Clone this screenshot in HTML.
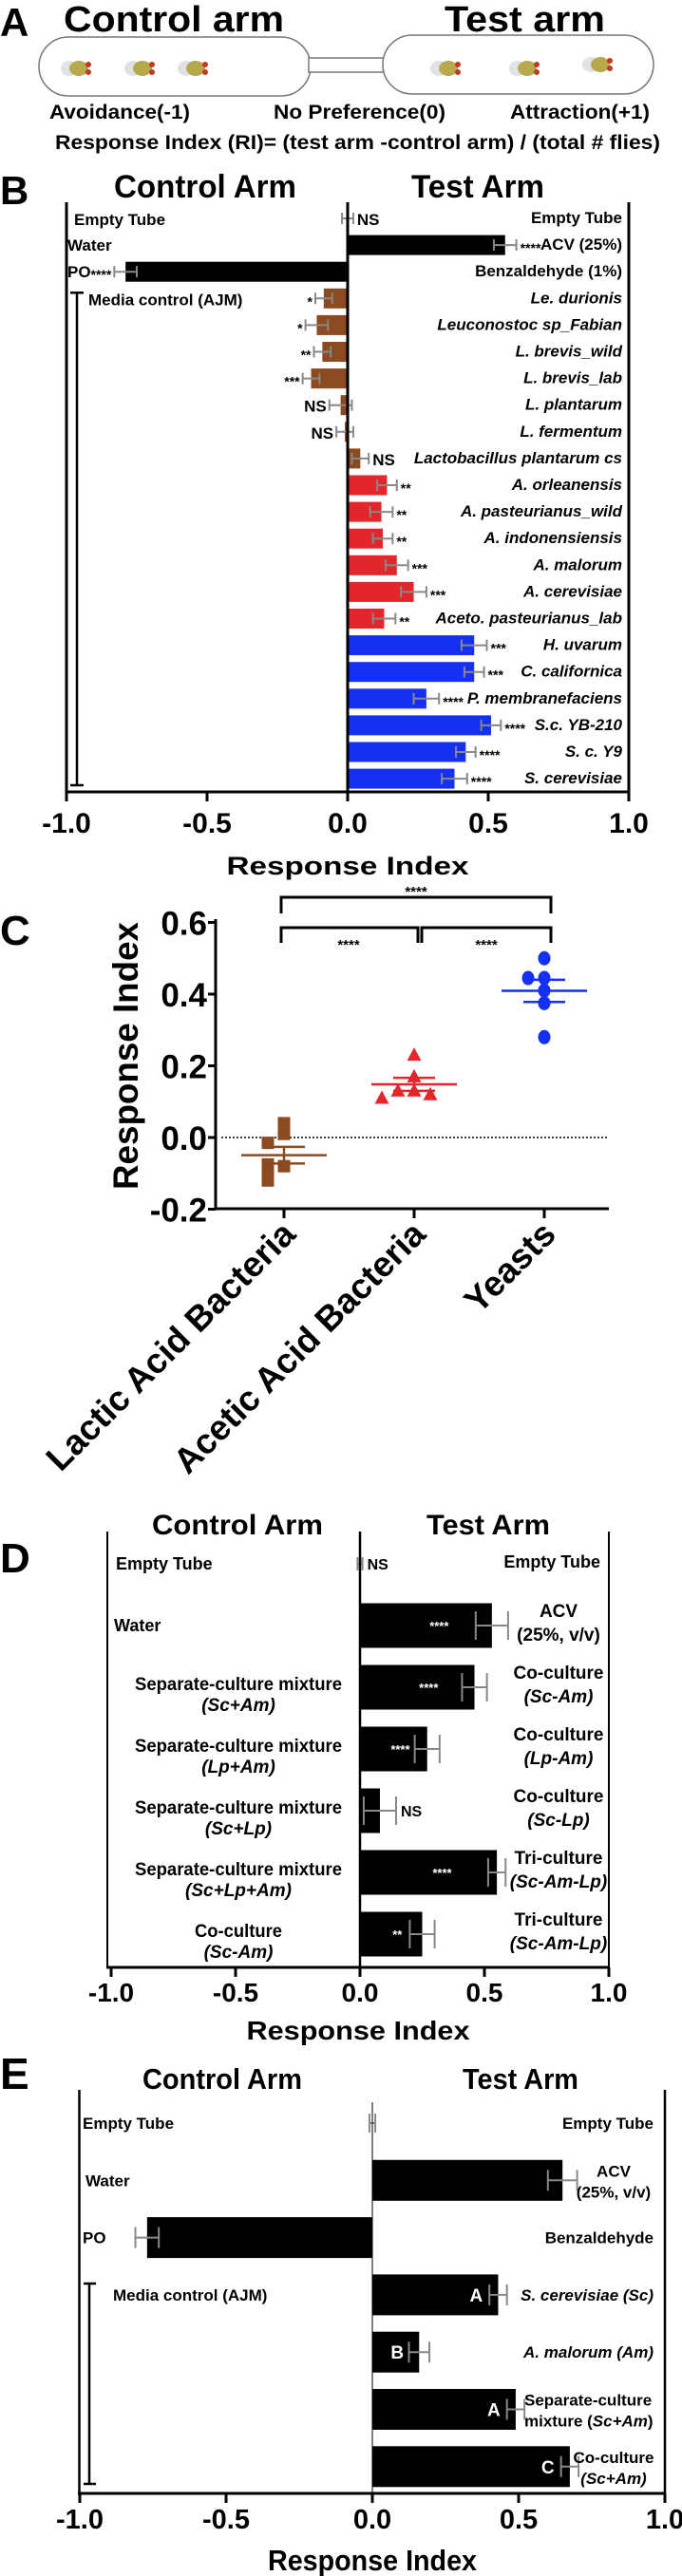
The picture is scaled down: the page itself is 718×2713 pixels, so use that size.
<!DOCTYPE html>
<html><head><meta charset="utf-8">
<style>
html,body{margin:0;padding:0;background:#fff;}
svg{display:block;font-family:"Liberation Sans",Arial,sans-serif;font-weight:bold;}
</style></head>
<body>
<svg id="fig" xmlns="http://www.w3.org/2000/svg" width="718" height="2713" viewBox="0 0 718 2713">
<rect x="0" y="0" width="718" height="2713" fill="#fff"/>
<g>
  <text x="0" y="38" font-size="42">A</text>
  <text x="67" y="33" font-size="38" textLength="232" lengthAdjust="spacingAndGlyphs">Control arm</text>
  <text x="468" y="33" font-size="38" textLength="169" lengthAdjust="spacingAndGlyphs">Test arm</text>
  <rect x="41" y="39" width="286" height="62" rx="31" fill="#fff" stroke="#777" stroke-width="1.5"/>
  <rect x="325" y="61" width="80" height="15" fill="#fff" stroke="#777" stroke-width="1.5"/>
  <rect x="403" y="37" width="285" height="62" rx="31" fill="#fff" stroke="#777" stroke-width="1.5"/>
  <g>
    <g transform="translate(81,72)"><ellipse cx="-8" cy="0" rx="9" ry="8" fill="#dfe3e6"/><ellipse cx="2" cy="0" rx="10" ry="8" fill="#b7a84a"/><circle cx="12" cy="-4" r="3" fill="#c0392b"/><circle cx="12" cy="4" r="3" fill="#c0392b"/></g>
    <g transform="translate(148,72)"><ellipse cx="-8" cy="0" rx="9" ry="8" fill="#dfe3e6"/><ellipse cx="2" cy="0" rx="10" ry="8" fill="#b7a84a"/><circle cx="12" cy="-4" r="3" fill="#c0392b"/><circle cx="12" cy="4" r="3" fill="#c0392b"/></g>
    <g transform="translate(204,72)"><ellipse cx="-8" cy="0" rx="9" ry="8" fill="#dfe3e6"/><ellipse cx="2" cy="0" rx="10" ry="8" fill="#b7a84a"/><circle cx="12" cy="-4" r="3" fill="#c0392b"/><circle cx="12" cy="4" r="3" fill="#c0392b"/></g>
    <g transform="translate(470,72)"><ellipse cx="-8" cy="0" rx="9" ry="8" fill="#dfe3e6"/><ellipse cx="2" cy="0" rx="10" ry="8" fill="#b7a84a"/><circle cx="12" cy="-4" r="3" fill="#c0392b"/><circle cx="12" cy="4" r="3" fill="#c0392b"/></g>
    <g transform="translate(553,72)"><ellipse cx="-8" cy="0" rx="9" ry="8" fill="#dfe3e6"/><ellipse cx="2" cy="0" rx="10" ry="8" fill="#b7a84a"/><circle cx="12" cy="-4" r="3" fill="#c0392b"/><circle cx="12" cy="4" r="3" fill="#c0392b"/></g>
    <g transform="translate(630,68)"><ellipse cx="-8" cy="0" rx="9" ry="8" fill="#dfe3e6"/><ellipse cx="2" cy="0" rx="10" ry="8" fill="#b7a84a"/><circle cx="12" cy="-4" r="3" fill="#c0392b"/><circle cx="12" cy="4" r="3" fill="#c0392b"/></g>
  </g>
  <text x="52" y="125" font-size="21" textLength="148" lengthAdjust="spacingAndGlyphs">Avoidance(-1)</text>
  <text x="288" y="125" font-size="21" textLength="181" lengthAdjust="spacingAndGlyphs">No Preference(0)</text>
  <text x="537" y="125" font-size="21" textLength="147" lengthAdjust="spacingAndGlyphs">Attraction(+1)</text>
  <text x="58" y="157" font-size="21" textLength="637" lengthAdjust="spacingAndGlyphs">Response Index (RI)= (test arm -control arm) / (total # flies)</text>
</g>
<g id="charts"></g>
</svg>
<script>
// ---------- Panel B data ----------
const bLabels = ["Empty Tube","ACV (25%)","Benzaldehyde (1%)","Le. durionis","Leuconostoc sp_Fabian","L. brevis_wild","L. brevis_lab","L. plantarum","L. fermentum","Lactobacillus plantarum cs","A. orleanensis","A. pasteurianus_wild","A. indonensiensis","A. malorum","A. cerevisiae","Aceto. pasteurianus_lab","H. uvarum","C. californica","P. membranefaciens","S.c. YB-210","S. c.  Y9","S. cerevisiae"];
const bValues = [0, 0.56, -0.79, -0.085, -0.11, -0.09, -0.13, -0.025, -0.01, 0.045, 0.14, 0.12, 0.125, 0.175, 0.235, 0.13, 0.45, 0.45, 0.28, 0.51, 0.42, 0.38];
const bErrors = [0.02, 0.04, 0.04, 0.03, 0.04, 0.03, 0.03, 0.04, 0.03, 0.03, 0.035, 0.04, 0.035, 0.04, 0.045, 0.04, 0.045, 0.035, 0.045, 0.035, 0.035, 0.045];
const bSig = ["NS","****","****","*","*","**","***","NS","NS","NS","**","**","**","***","***","**","***","***","****","****","****","****"];
const bGroups = ["ctrl","ctrl","ctrl","lab","lab","lab","lab","lab","lab","lab","aab","aab","aab","aab","aab","aab","yeast","yeast","yeast","yeast","yeast","yeast"];
const bTicks = [-1.0, -0.5, 0.0, 0.5, 1.0];
const bTickLabels = ["-1.0","-0.5","0.0","0.5","1.0"];
// ---------- Panel C data ----------
const cCategories = ["Lactic Acid Bacteria","Acetic Acid Bacteria","Yeasts"];
const cLabValues = [0.04, 0.01, -0.015, -0.08, -0.075, -0.105, -0.12];
const cAabValues = [0.23, 0.17, 0.13, 0.13, 0.12, 0.11];
const cYeastValues = [0.50, 0.445, 0.445, 0.41, 0.375, 0.28];
const cTicks = [0.6, 0.4, 0.2, 0.0, -0.2];
const cTickLabels = ["0.6","0.4","0.2","0.0","-0.2"];
// ---------- Panel D data ----------
const dLeftLabels = [["Empty Tube"],["Water"],["Separate-culture mixture","(Sc+Am)"],["Separate-culture mixture","(Lp+Am)"],["Separate-culture mixture","(Sc+Lp)"],["Separate-culture mixture","(Sc+Lp+Am)"],["Co-culture","(Sc-Am)"]];
const dRightLabels = [["Empty Tube"],["ACV","(25%, v/v)"],["Co-culture","(Sc-Am)"],["Co-culture","(Lp-Am)"],["Co-culture","(Sc-Lp)"],["Tri-culture","(Sc-Am-Lp)"],["Tri-culture","(Sc-Am-Lp)"]];
const dValues = [0, 0.53, 0.46, 0.27, 0.08, 0.55, 0.25];
const dErrors = [0.01, 0.065, 0.05, 0.05, 0.065, 0.035, 0.05];
const dSig = ["NS","****","****","****","NS","****","**"];
// ---------- Panel E data ----------
const eLeftLabels = ["Empty Tube","Water","PO","Media control (AJM)","","",""];
const eRightLabels = [["Empty Tube"],["ACV","(25%, v/v)"],["Benzaldehyde"],["S. cerevisiae (Sc)"],["A. malorum (Am)"],["Separate-culture","mixture (Sc+Am)"],["Co-culture","(Sc+Am)"]];
const eValues = [0, 0.65, -0.77, 0.43, 0.16, 0.49, 0.675];
const eErrors = [0.01, 0.05, 0.04, 0.03, 0.035, 0.03, 0.03];
const eLetters = ["","","","A","B","A","C"];

const NS = "http://www.w3.org/2000/svg";
const root = document.getElementById("charts");
function mk(tag, attrs, parent) {
  const e = document.createElementNS(NS, tag);
  for (const k in attrs) e.setAttribute(k, attrs[k]);
  (parent || root).appendChild(e);
  return e;
}
function nm(e, name) {
  
  
  return e;
}
function txt(s, attrs, parent) { const t = mk("text", attrs, parent); t.textContent = s; return t; }
const GREY = "#888";
const COLORS = {ctrl:"#000", lab:"#8b4a1f", aab:"#e3262c", yeast:"#1530f0"};

function errBar(g, x1, x2, y, h) {
  const l = mk("line", {x1:x1, x2:x2, y1:y, y2:y, stroke:GREY, "stroke-width":2}, g);
  nm(l, "error-bar");
  const c1 = mk("line", {x1:x1, x2:x1, y1:y-h, y2:y+h, stroke:GREY, "stroke-width":2}, g);
  nm(c1, "error-cap");
  const c2 = mk("line", {x1:x2, x2:x2, y1:y-h, y2:y+h, stroke:GREY, "stroke-width":2}, g);
  nm(c2, "error-cap");
}

// ================= Panel B =================
(function(){
  const g = mk("g", {});
  nm(g, "panel-b");
  const xB = v => 366 + v * 296;
  const yB = i => 230 + i * 28.1;
  const bh = 21;
  nm(txt("B", {x:0, y:215, "font-size":42}, g), "panel-b-label");
  nm(txt("Control Arm", {x:120, y:208, "font-size":34, textLength:192, lengthAdjust:"spacingAndGlyphs"}, g), "control-arm-title");
  nm(txt("Test Arm", {x:433, y:208, "font-size":34, textLength:140, lengthAdjust:"spacingAndGlyphs"}, g), "test-arm-title");
  nm(mk("line", {x1:xB(-1), x2:xB(-1), y1:213, y2:834, stroke:"#000", "stroke-width":3}, g), "frame-left");
  nm(mk("line", {x1:xB(1), x2:xB(1), y1:213, y2:834, stroke:"#000", "stroke-width":3}, g), "frame-right");
  bValues.forEach((v, i) => {
    const y = yB(i);
    if (i > 0) {
      const x0 = Math.min(xB(0), xB(v)), w = Math.abs(xB(v) - xB(0));
      const r = mk("rect", {x:x0, y:y - bh/2, width:w, height:bh, fill:COLORS[bGroups[i]]}, g);
      nm(r, "bar-" + bLabels[i].replace(/[^A-Za-z0-9]+/g, "-").toLowerCase());
    }
    errBar(g, xB(v - bErrors[i]), xB(v + bErrors[i]), y, 6);
    const s = bSig[i];
    let sx, anchor;
    if (v >= 0) { sx = xB(v + bErrors[i]) + 4; anchor = "start"; }
    else { sx = xB(v - bErrors[i]) - 3; anchor = "end"; }
    const st = txt(s, {x:sx, y:y + (s === "NS" ? 7 : 8), "font-size": s === "NS" ? 17 : 14, "text-anchor":anchor}, g);
    nm(st, "significance-label");
    const lab = txt(bLabels[i], {x:655, y:y + 5, "font-size":17, "text-anchor":"end", "font-style": i >= 3 ? "italic" : "normal"}, g);
    nm(lab, "row-label-test");
  });
  nm(mk("line", {x1:xB(0), x2:xB(0), y1:213, y2:834, stroke:"#000", "stroke-width":3}, g), "zero-line");
  nm(txt("Empty Tube", {x:78, y:yB(0) + 7, "font-size":17}, g), "row-label-control");
  nm(txt("Water", {x:71, y:yB(1) + 6, "font-size":17}, g), "row-label-control");
  nm(txt("PO", {x:71, y:yB(2) + 6, "font-size":17}, g), "row-label-control");
  nm(txt("Media control (AJM)", {x:93, y:yB(3) + 7, "font-size":17}, g), "row-label-control");
  nm(mk("line", {x1:81, x2:81, y1:yB(3) - 6, y2:827, stroke:"#000", "stroke-width":2.5}, g), "media-bracket");
  nm(mk("line", {x1:74, x2:88, y1:yB(3) - 6, y2:yB(3) - 6, stroke:"#000", "stroke-width":2.5}, g), "media-bracket-cap");
  nm(mk("line", {x1:74, x2:88, y1:827, y2:827, stroke:"#000", "stroke-width":2.5}, g), "media-bracket-cap");
  nm(mk("line", {x1:xB(-1) - 1.5, x2:xB(1) + 1.5, y1:834, y2:834, stroke:"#000", "stroke-width":3}, g), "x-axis");
  bTicks.forEach((t, k) => {
    nm(mk("line", {x1:xB(t), x2:xB(t), y1:834, y2:844, stroke:"#000", "stroke-width":3}, g), "x-tick");
    nm(txt(bTickLabels[k], {x:xB(t), y:877, "font-size":30, "text-anchor":"middle"}, g), "x-tick-label");
  });
  nm(txt("Response Index", {x:xB(0), y:921, "font-size":27, "text-anchor":"middle", textLength:255, lengthAdjust:"spacingAndGlyphs"}, g), "x-axis-title");
})();

// ================= Panel C =================
(function(){
  const g = mk("g", {});
  nm(g, "panel-c");
  const yC = v => 1198 - v * 377.5;
  const catX = [299, 436, 573];
  const xC = i => catX[0] + i * (catX[1] - catX[0]);
  nm(txt("C", {x:0, y:995, "font-size":44}, g), "panel-c-label");
  nm(mk("line", {x1:227, x2:227, y1:968, y2:1274, stroke:"#000", "stroke-width":3}, g), "y-axis");
  nm(mk("line", {x1:225.5, x2:641, y1:1273, y2:1273, stroke:"#000", "stroke-width":3}, g), "x-axis");
  cTicks.forEach((t, k) => {
    nm(mk("line", {x1:219, x2:227, y1:yC(t), y2:yC(t), stroke:"#000", "stroke-width":3}, g), "y-tick");
    nm(txt(cTickLabels[k], {x:218, y:yC(t) + 13, "font-size":35, "text-anchor":"end"}, g), "y-tick-label");
  });
  nm(mk("line", {x1:233, x2:641, y1:yC(0), y2:yC(0), stroke:"#000", "stroke-width":1.5, "stroke-dasharray":"2,2"}, g), "zero-reference-line");
  const yt = txt("Response Index", {x:0, y:0, "font-size":37, "text-anchor":"middle", transform:"translate(145,1112) rotate(-90)", textLength:282, lengthAdjust:"spacingAndGlyphs"}, g);
  nm(yt, "y-axis-title");
  cCategories.forEach((c, i) => {
    nm(mk("line", {x1:xC(i), x2:xC(i), y1:1273, y2:1283, stroke:"#000", "stroke-width":3}, g), "x-tick");
    const t = txt(c, {x:0, y:0, "font-size":37, "text-anchor":"end", transform:"translate(" + (xC(i) + 14) + ",1302) rotate(-45)"}, g);
    nm(t, "x-tick-label");
  });
  const groups = [cLabValues, cAabValues, cYeastValues];
  const cols = [COLORS.lab, COLORS.aab, COLORS.yeast];
  const names = ["lab", "aab", "yeast"];
  groups.forEach((vals, gi) => {
    const cx = xC(gi);
    vals.forEach((v, k) => {
      let n = 0;
      for (let j = 0; j < k; j++) if (Math.abs(vals[j] - v) < 0.03) n++;
      const off = n === 0 ? 0 : (n % 2 ? -1 : 1) * Math.ceil(n / 2) * 17;
      const px = cx + off, py = yC(v);
      let m;
      if (gi === 0) m = mk("rect", {x:px - 6.5, y:py - 6.5, width:13, height:13, fill:cols[gi]}, g);
      else if (gi === 1) m = mk("polygon", {points:(px) + "," + (py - 8) + " " + (px - 7.5) + "," + (py + 6) + " " + (px + 7.5) + "," + (py + 6), fill:cols[gi]}, g);
      else m = mk("ellipse", {cx:px, cy:py, rx:6.5, ry:7.5, fill:cols[gi]}, g);
      nm(m, "point-" + names[gi]);
    });
    const mean = vals.reduce((a, b) => a + b, 0) / vals.length;
    const sd = Math.sqrt(vals.reduce((a, b) => a + (b - mean) * (b - mean), 0) / (vals.length - 1));
    const sem = sd / Math.sqrt(vals.length);
    nm(mk("line", {x1:cx - 45, x2:cx + 45, y1:yC(mean), y2:yC(mean), stroke:cols[gi], "stroke-width":2.5}, g), "mean-line-" + names[gi]);
    nm(mk("line", {x1:cx - 22, x2:cx + 22, y1:yC(mean + sem), y2:yC(mean + sem), stroke:cols[gi], "stroke-width":2.5}, g), "sem-line-" + names[gi]);
    nm(mk("line", {x1:cx - 22, x2:cx + 22, y1:yC(mean - sem), y2:yC(mean - sem), stroke:cols[gi], "stroke-width":2.5}, g), "sem-line-" + names[gi]);
    nm(mk("line", {x1:cx, x2:cx, y1:yC(mean + sem), y2:yC(mean - sem), stroke:cols[gi], "stroke-width":2.5}, g), "sem-stem-" + names[gi]);
  });
  nm(mk("polyline", {points:"296,962 296,945 580,945 580,962", fill:"none", stroke:"#000", "stroke-width":3}, g), "bracket-lab-yeast");
  nm(txt("****", {x:438, y:944, "font-size":15, "text-anchor":"middle"}, g), "bracket-significance");
  nm(mk("polyline", {points:"296,993 296,977 440,977 440,993", fill:"none", stroke:"#000", "stroke-width":3}, g), "bracket-lab-aab");
  nm(mk("polyline", {points:"444,993 444,977 580,977 580,993", fill:"none", stroke:"#000", "stroke-width":3}, g), "bracket-aab-yeast");
  nm(txt("****", {x:367, y:1000, "font-size":15, "text-anchor":"middle"}, g), "bracket-significance");
  nm(txt("****", {x:512, y:1000, "font-size":15, "text-anchor":"middle"}, g), "bracket-significance");
})();

// ================= Panel D =================
(function(){
  const g = mk("g", {});
  nm(g, "panel-d");
  const xD = v => 379 + v * 262;
  const yD = i => 1647 + i * 65;
  const bh = 47;
  nm(txt("D", {x:0, y:1656, "font-size":44}, g), "panel-d-label");
  nm(txt("Control Arm", {x:250, y:1616, "font-size":30, "text-anchor":"middle", textLength:180, lengthAdjust:"spacingAndGlyphs"}, g), "control-arm-title");
  nm(txt("Test Arm", {x:514, y:1616, "font-size":30, "text-anchor":"middle", textLength:130, lengthAdjust:"spacingAndGlyphs"}, g), "test-arm-title");
  nm(mk("line", {x1:113, x2:113, y1:1613, y2:2073, stroke:"#000", "stroke-width":2}, g), "frame-left");
  nm(mk("line", {x1:641, x2:641, y1:1613, y2:2073, stroke:"#000", "stroke-width":2}, g), "frame-right");
  dValues.forEach((v, i) => {
    const y = yD(i);
    if (i > 0) {
      const r = mk("rect", {x:xD(0), y:y - bh/2, width:xD(v) - xD(0), height:bh, fill:"#000"}, g);
      nm(r, "bar-row-" + i);
    }
    errBar(g, xD(v - dErrors[i]), xD(v + dErrors[i]), y, i === 0 ? 7 : 15);
    const s = dSig[i];
    if (s === "NS") {
      nm(txt(s, {x:xD(v + dErrors[i]) + 5, y:y + 6, "font-size":16}, g), "significance-label");
    } else {
      nm(txt(s, {x:xD(v * 0.6), y:y + 5, "font-size":13, fill:"#fff", "text-anchor":"middle"}, g), "significance-label");
    }
    const L = dLeftLabels[i];
    if (i === 0) nm(txt(L[0], {x:122, y:y + 6, "font-size":18}, g), "row-label-control");
    else if (L.length === 1) nm(txt(L[0], {x:120, y:y + 6, "font-size":18}, g), "row-label-control");
    else {
      nm(txt(L[0], {x:251, y:y + 3, "font-size":19, "text-anchor":"middle", textLength: L[0].length > 12 ? 218 : 92, lengthAdjust:"spacingAndGlyphs"}, g), "row-label-control");
      nm(txt(L[1], {x:251, y:y + 25, "font-size":19, "text-anchor":"middle", "font-style":"italic"}, g), "row-label-control-sub");
    }
    const R = dRightLabels[i];
    if (R.length === 1) nm(txt(R[0], {x:632, y:y + 4, "font-size":18, "text-anchor":"end"}, g), "row-label-test");
    else {
      nm(txt(R[0], {x:588, y:y - 9, "font-size":19, "text-anchor":"middle"}, g), "row-label-test");
      nm(txt(R[1], {x:588, y:y + 16, "font-size":19, "text-anchor":"middle", "font-style": i === 1 ? "normal" : "italic"}, g), "row-label-test-sub");
    }
  });
  nm(mk("line", {x1:xD(0), x2:xD(0), y1:1613, y2:2073, stroke:"#000", "stroke-width":2.5}, g), "zero-line");
  nm(mk("line", {x1:112, x2:642, y1:2072, y2:2072, stroke:"#000", "stroke-width":3}, g), "x-axis");
  bTicks.forEach((t, k) => {
    nm(mk("line", {x1:xD(t), x2:xD(t), y1:2072, y2:2082, stroke:"#000", "stroke-width":3}, g), "x-tick");
    nm(txt(bTickLabels[k], {x:xD(t), y:2108, "font-size":28, "text-anchor":"middle"}, g), "x-tick-label");
  });
  nm(txt("Response Index", {x:377, y:2148, "font-size":28, "text-anchor":"middle", textLength:235, lengthAdjust:"spacingAndGlyphs"}, g), "x-axis-title");
})();

// ================= Panel E =================
(function(){
  const g = mk("g", {});
  nm(g, "panel-e");
  const xE = v => 392 + v * 308;
  const yE = i => 2236 + i * 60.3;
  const bh = 43;
  nm(txt("E", {x:0, y:2200, "font-size":46}, g), "panel-e-label");
  nm(txt("Control Arm", {x:234, y:2200, "font-size":31, "text-anchor":"middle", textLength:168, lengthAdjust:"spacingAndGlyphs"}, g), "control-arm-title");
  nm(txt("Test Arm", {x:548, y:2200, "font-size":31, "text-anchor":"middle", textLength:122, lengthAdjust:"spacingAndGlyphs"}, g), "test-arm-title");
  nm(mk("line", {x1:83.5, x2:83.5, y1:2201, y2:2627, stroke:"#000", "stroke-width":2.5}, g), "frame-left");
  nm(mk("line", {x1:700, x2:700, y1:2201, y2:2627, stroke:"#000", "stroke-width":2.5}, g), "frame-right");
  eValues.forEach((v, i) => {
    const y = yE(i);
    if (i > 0) {
      const x0 = Math.min(xE(0), xE(v)), w = Math.abs(xE(v) - xE(0));
      const r = mk("rect", {x:x0, y:y - bh/2, width:w, height:bh, fill:"#000"}, g);
      nm(r, "bar-row-" + i);
    }
    errBar(g, xE(v - eErrors[i]), xE(v + eErrors[i]), y, i === 0 ? 10 : 11);
    if (eLetters[i]) nm(txt(eLetters[i], {x:xE(v - 0.075), y:y + 7, "font-size":19, fill:"#fff", "text-anchor":"middle"}, g), "group-letter");
    if (eLeftLabels[i]) {
      const lx = i === 3 ? 119 : (i === 1 ? 90 : 87);
      nm(txt(eLeftLabels[i], {x:lx, y:y + 6, "font-size":17}, g), "row-label-control");
    }
    const R = eRightLabels[i];
    if (i === 5) {
      nm(txt(R[0], {x:552, y:y - 4, "font-size":17}, g), "row-label-test");
      const t = txt("mixture (", {x:552, y:y + 18, "font-size":17}, g);
      nm(t, "row-label-test-sub");
      const ts = mk("tspan", {"font-style":"italic"}, t); ts.textContent = "Sc+Am";
      const ts2 = mk("tspan", {}, t); ts2.textContent = ")";
    } else if (R.length === 1) {
      nm(txt(R[0], {x:688, y:y + 6, "font-size":17, "text-anchor":"end", "font-style": (i === 3 || i === 4) ? "italic" : "normal"}, g), "row-label-test");
    } else {
      nm(txt(R[0], {x:646, y:y - 4, "font-size":17, "text-anchor":"middle"}, g), "row-label-test");
      nm(txt(R[1], {x:646, y:y + 18, "font-size":17, "text-anchor":"middle", "font-style": i === 6 ? "italic" : "normal"}, g), "row-label-test-sub");
    }
  });
  nm(mk("line", {x1:xE(0), x2:xE(0), y1:2214, y2:2627, stroke:"#000", "stroke-width":1}, g), "zero-line");
  nm(mk("line", {x1:94, x2:94, y1:2405, y2:2616, stroke:"#000", "stroke-width":2.5}, g), "media-bracket");
  nm(mk("line", {x1:88, x2:101, y1:2405, y2:2405, stroke:"#000", "stroke-width":2.5}, g), "media-bracket-cap");
  nm(mk("line", {x1:88, x2:101, y1:2616, y2:2616, stroke:"#000", "stroke-width":2.5}, g), "media-bracket-cap");
  nm(mk("line", {x1:82, x2:701, y1:2626, y2:2626, stroke:"#000", "stroke-width":3}, g), "x-axis");
  bTicks.forEach((t, k) => {
    nm(mk("line", {x1:xE(t), x2:xE(t), y1:2626, y2:2636, stroke:"#000", "stroke-width":3}, g), "x-tick");
    nm(txt(bTickLabels[k], {x:xE(t), y:2663, "font-size":29, "text-anchor":"middle"}, g), "x-tick-label");
  });
  nm(txt("Response Index", {x:392, y:2707, "font-size":31, "text-anchor":"middle", textLength:220, lengthAdjust:"spacingAndGlyphs"}, g), "x-axis-title");
})();
</script>
</body></html>
